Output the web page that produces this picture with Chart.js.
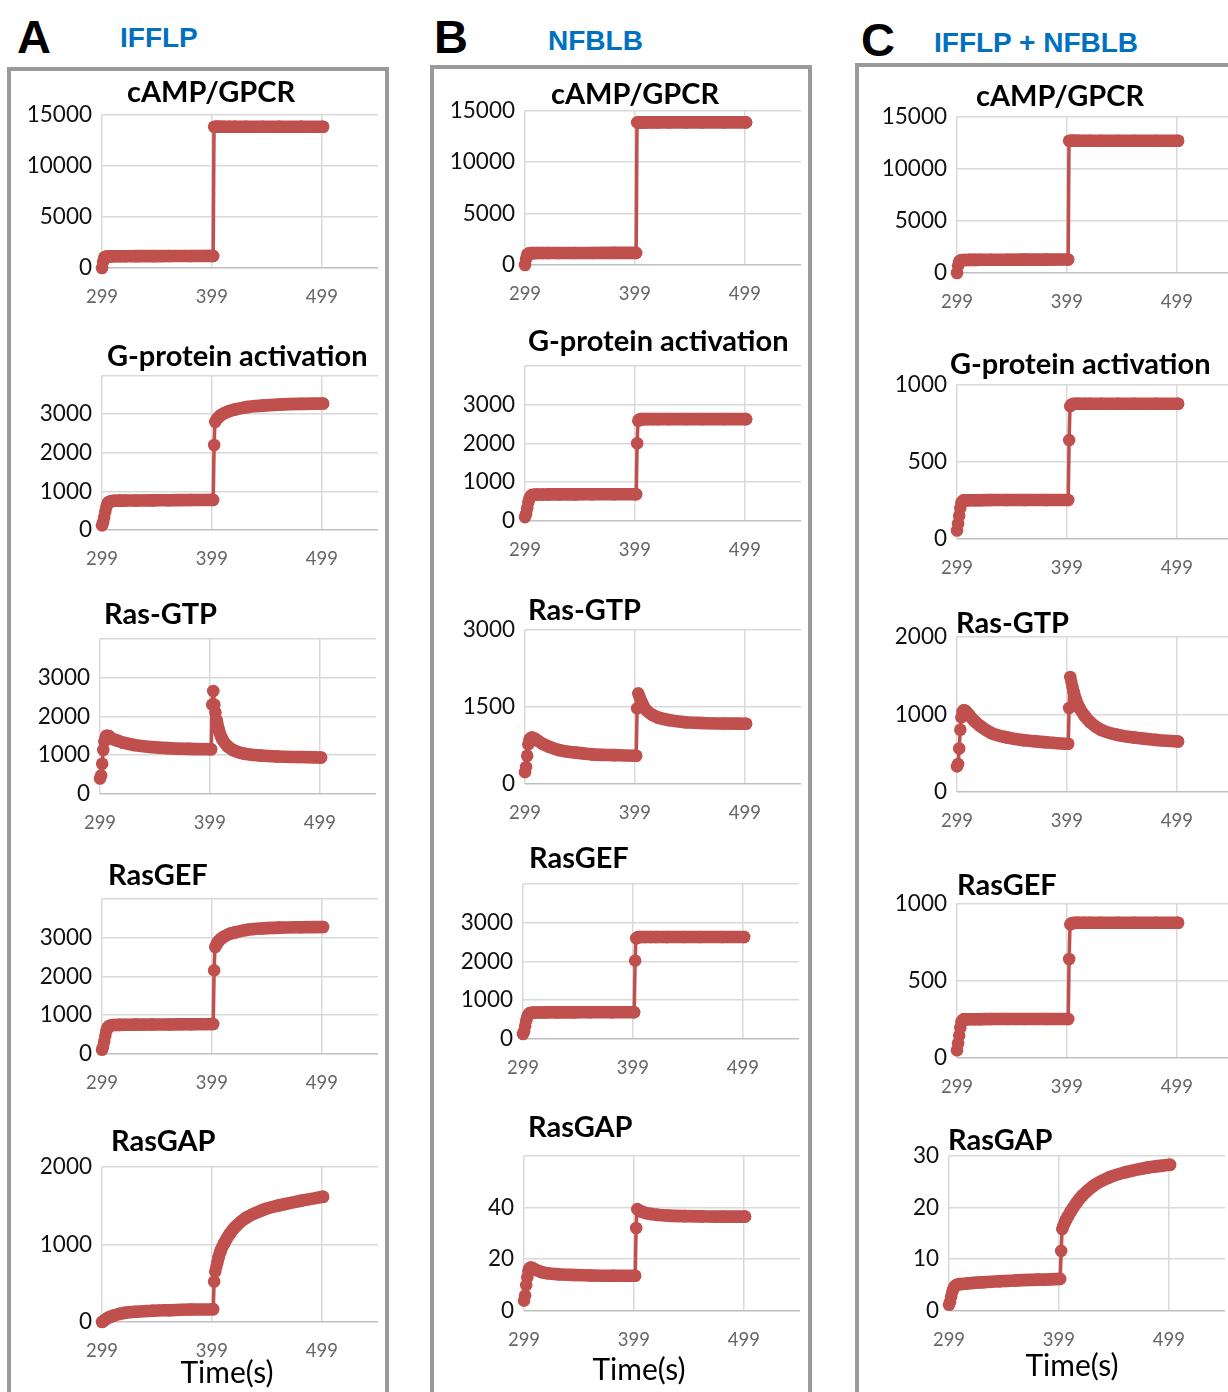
<!DOCTYPE html>
<html>
<head>
<meta charset="utf-8">
<script src="https://cdn.jsdelivr.net/npm/chart.js@4.4.1/dist/chart.umd.min.js"></script>
<style>
  html, body { margin: 0; padding: 0; overflow: hidden; background: #fff; }
  body { position: relative; width: 1228px; height: 1392px; }
  .panel { position: absolute; border: 4px solid #9a9a9a; box-sizing: border-box; }
  .letter { position: absolute; font: bold 47px "Liberation Sans", Arial, sans-serif; color: #000; line-height: 1; }
  .head { position: absolute; font: bold 28px "Liberation Sans", Arial, sans-serif; color: #0070C0; line-height: 1; white-space: nowrap; }
  .ctitle { position: absolute; font: bold 29px Lato, sans-serif; color: #000; white-space: nowrap; line-height: 1; transform: translateY(-50%); }
  .xname { position: absolute; font: 30px Lato, sans-serif; color: #000; white-space: nowrap; line-height: 1; transform: translate(-50%, -50%); }
  canvas { position: absolute; }
</style>
</head>
<body>
<div class="panel" style="left:7px;top:67px;width:382px;height:1400px"></div>
<div class="panel" style="left:430px;top:65px;width:382px;height:1400px"></div>
<div class="panel" style="left:855px;top:63px;width:500px;height:1400px"></div>

<div class="letter" style="left:17px;top:13px">A</div>
<div class="letter" style="left:434px;top:13px">B</div>
<div class="letter" style="left:861px;top:16px">C</div>
<div class="head" style="left:120px;top:24px">IFFLP</div>
<div class="head" style="left:548px;top:27px">NFBLB</div>
<div class="head" style="left:934px;top:29px">IFFLP + NFBLB</div>

<script>
// Sampling times (s) shared by every trace
const TIME = [299,300,301,302,303,304,305,307,310,315,320,330,345,360,380,400,
              401,402,403,404,405,407,410,415,420,430,445,460,480,500];
const X_TICKS = [299, 399, 499];

// IFFLP
const IFFLP_CAMP   = [0,600,1000,1100,1120,1130,1140,1140,1150,1150,1150,1160,1160,1170,1170,1180,
                      13800,13800,13800,13800,13800,13800,13800,13800,13800,13800,13800,13800,13800,13800];
const IFFLP_GPROT  = [120,200,330,480,600,680,720,745,755,760,762,765,768,770,775,780,
                      2200,2800,2850,2890,2920,2970,3020,3080,3120,3180,3220,3245,3265,3275];
const IFFLP_RASGTP = [400,480,780,1130,1350,1450,1500,1490,1420,1370,1320,1260,1210,1180,1160,1150,
                      2300,2650,2300,2100,1900,1650,1420,1230,1130,1040,990,965,950,940];
const IFFLP_RASGEF = [110,190,320,470,590,670,710,735,745,750,752,755,758,760,765,770,
                      2150,2750,2810,2860,2900,2960,3020,3090,3130,3190,3230,3250,3260,3265];
const IFFLP_RASGAP = [0,10,20,30,40,50,57,70,85,105,118,132,145,152,160,165,
                      520,650,710,770,830,920,1010,1130,1220,1340,1440,1500,1560,1610];

// NFBLB
const NFBLB_CAMP   = [0,600,1000,1100,1130,1140,1150,1150,1160,1160,1160,1165,1170,1170,1175,1180,
                      13850,13850,13850,13850,13850,13850,13850,13850,13850,13850,13850,13850,13850,13850];
const NFBLB_GPROT  = [100,180,330,480,580,630,660,675,680,682,684,685,686,688,689,690,
                      2000,2580,2610,2620,2620,2620,2620,2620,2620,2620,2620,2620,2620,2620];
const NFBLB_RASGTP = [230,330,550,770,860,890,900,890,850,780,730,660,610,575,560,550,
                      1470,1760,1700,1640,1590,1500,1420,1340,1290,1240,1200,1185,1175,1170];
const NFBLB_RASGEF = [130,200,340,480,580,630,660,675,680,682,684,685,686,688,689,690,
                      2015,2590,2615,2625,2625,2625,2625,2625,2625,2625,2625,2625,2625,2625];
const NFBLB_RASGAP = [4,6,10,13,15.5,16.5,16.8,16.5,15.8,15,14.6,14.2,13.9,13.7,13.6,13.6,
                      32,39.3,39,38.7,38.5,38.2,37.8,37.4,37.1,36.8,36.6,36.5,36.4,36.4];

// IFFLP + NFBLB
const BOTH_CAMP   = [0,700,1100,1200,1230,1240,1250,1250,1255,1260,1265,1270,1275,1280,1285,1290,
                     12680,12680,12680,12680,12680,12680,12680,12680,12680,12680,12680,12680,12680,12680];
const BOTH_GPROT  = [55,100,150,200,235,245,250,250,251,251,251,252,252,252,252,252,
                     640,860,870,873,874,875,875,875,875,875,875,875,875,875];
const BOTH_RASGTP = [330,360,560,800,960,1030,1050,1040,990,910,850,760,700,665,640,620,
                     1080,1480,1420,1350,1290,1190,1090,980,900,800,735,700,670,650];
const BOTH_RASGEF = [50,95,145,195,232,244,250,250,251,251,251,252,252,252,252,252,
                     641,865,872,873,874,875,875,875,875,875,875,875,875,875];
const BOTH_RASGAP = [1.2,1.8,2.8,3.7,4.3,4.7,4.9,5.1,5.2,5.3,5.4,5.55,5.75,5.9,6.05,6.2,
                     11.6,15.8,16.4,16.9,17.4,18.2,19.3,20.9,22.2,24.1,25.8,26.8,27.7,28.2];

// Layout of the fifteen small plots: plot-area edges in page pixels, axis range, title spot
const PLOTS = [
  {title:'cAMP/GPCR',            values:IFFLP_CAMP,   left:102, top:111,  bottom:268,  ymax:15000, step:5000, hideTop:false, tx:127, ty:90},
  {title:'G-protein activation', values:IFFLP_GPROT,  left:102, top:372,  bottom:530,  ymax:4000,  step:1000, hideTop:true,  tx:107, ty:354},
  {title:'Ras-GTP',              values:IFFLP_RASGTP, left:100, top:635,  bottom:794,  ymax:4000,  step:1000, hideTop:true,  tx:104, ty:612},
  {title:'RasGEF',               values:IFFLP_RASGEF, left:102, top:895,  bottom:1054, ymax:4000,  step:1000, hideTop:true,  tx:108, ty:873},
  {title:'RasGAP',               values:IFFLP_RASGAP, left:102, top:1163, bottom:1322, ymax:2000,  step:1000, hideTop:false, tx:111, ty:1139},

  {title:'cAMP/GPCR',            values:NFBLB_CAMP,   left:525, top:107,  bottom:265,  ymax:15000, step:5000, hideTop:false, tx:551, ty:92},
  {title:'G-protein activation', values:NFBLB_GPROT,  left:525, top:362,  bottom:521,  ymax:4000,  step:1000, hideTop:true,  tx:528, ty:339},
  {title:'Ras-GTP',              values:NFBLB_RASGTP, left:525, top:626,  bottom:784,  ymax:3000,  step:1500, hideTop:false, tx:528, ty:608},
  {title:'RasGEF',               values:NFBLB_RASGEF, left:523, top:880,  bottom:1039, ymax:4000,  step:1000, hideTop:true,  tx:529, ty:856},
  {title:'RasGAP',               values:NFBLB_RASGAP, left:524, top:1152, bottom:1311, ymax:60,    step:20,   hideTop:true,  tx:528, ty:1125},

  {title:'cAMP/GPCR',            values:BOTH_CAMP,    left:957, top:113,  bottom:273,  ymax:15000, step:5000, hideTop:false, tx:976, ty:94},
  {title:'G-protein activation', values:BOTH_GPROT,   left:957, top:381,  bottom:539,  ymax:1000,  step:500,  hideTop:false, tx:950, ty:362},
  {title:'Ras-GTP',              values:BOTH_RASGTP,  left:957, top:633,  bottom:792,  ymax:2000,  step:1000, hideTop:false, tx:956, ty:621},
  {title:'RasGEF',               values:BOTH_RASGEF,  left:957, top:900,  bottom:1058, ymax:1000,  step:500,  hideTop:false, tx:957, ty:883},
  {title:'RasGAP',               values:BOTH_RASGAP,  left:949, top:1152, bottom:1311, ymax:30,    step:10,   hideTop:false, tx:948, ty:1138}
];

const AXIS_NAME = [
  {text:'Time(s)', cx:227,  cy:1371},
  {text:'Time(s)', cx:639,  cy:1368},
  {text:'Time(s)', cx:1072, cy:1364}
];

const RED = '#C0504D';
const GRID = '#d9d9d9';
const BASE = '#bfbfbf';
const PLOT_W = 276;      // plot width in px
const X_MIN = 299, X_MAX = 550;
const Y_AXIS_W = 100, X_AXIS_H = 46, PAD_TOP = 20;

PLOTS.forEach(p => {
  const cv = document.createElement('canvas');
  const w = Y_AXIS_W + PLOT_W;
  const h = PAD_TOP + (p.bottom - p.top) + X_AXIS_H;
  cv.width = w; cv.height = h;
  cv.style.left = (p.left - Y_AXIS_W) + 'px';
  cv.style.top = (p.top - PAD_TOP) + 'px';
  cv.style.width = w + 'px'; cv.style.height = h + 'px';
  document.body.appendChild(cv);

  const t = document.createElement('div');
  t.className = 'ctitle';
  t.textContent = p.title;
  t.style.left = p.tx + 'px';
  t.style.top = p.ty + 'px';
  document.body.appendChild(t);

  new Chart(cv, {
    type: 'line',
    data: {
      datasets: [{
        data: TIME.map((x, i) => ({x, y: p.values[i]})),
        borderColor: RED,
        backgroundColor: RED,
        borderWidth: 12.6,
        borderCapStyle: 'round',
        borderJoinStyle: 'round',
        pointRadius: 6.3,
        pointBorderWidth: 0,
        pointBackgroundColor: RED,
        cubicInterpolationMode: 'monotone',
        clip: false,
        segment: {
          // one-second steps are drawn as the thin connector, longer runs as the dense marker band
          borderWidth: ctx => (ctx.p1.parsed.x - ctx.p0.parsed.x) <= 1 ? 3.5 : 12.6
        }
      }]
    },
    options: {
      responsive: false,
      animation: false,
      devicePixelRatio: 1,
      events: [],
      layout: { autoPadding: false, padding: { top: PAD_TOP, left: 0, right: 0, bottom: 0 } },
      plugins: { legend: { display: false }, tooltip: { enabled: false }, title: { display: false } },
      scales: {
        x: {
          type: 'linear',
          min: X_MIN, max: X_MAX,
          afterBuildTicks: s => { s.ticks = X_TICKS.map(v => ({value: v})); },
          afterFit: s => { s.height = X_AXIS_H; },
          ticks: { padding: 18, color: '#666', font: { family: 'Lato', size: 18.5 }, callback: v => String(v), maxRotation: 0 },
          grid: { color: GRID, lineWidth: 1.5, drawTicks: false },
          border: { display: false }
        },
        y: {
          min: 0, max: p.ymax,
          afterFit: s => { s.width = Y_AXIS_W; },
          ticks: {
            stepSize: p.step, padding: 10, color: '#111',
            font: { family: 'Lato', size: 22.5 },
            callback: v => (p.hideTop && v === p.ymax) ? '' : String(v)
          },
          grid: { color: c => c.tick && c.tick.value === 0 ? BASE : GRID, lineWidth: 1.5, drawTicks: false },
          border: { display: false }
        }
      }
    }
  });
});

AXIS_NAME.forEach(a => {
  const d = document.createElement('div');
  d.className = 'xname';
  d.textContent = a.text;
  d.style.left = a.cx + 'px';
  d.style.top = a.cy + 'px';
  document.body.appendChild(d);
});
</script>
</body>
</html>
